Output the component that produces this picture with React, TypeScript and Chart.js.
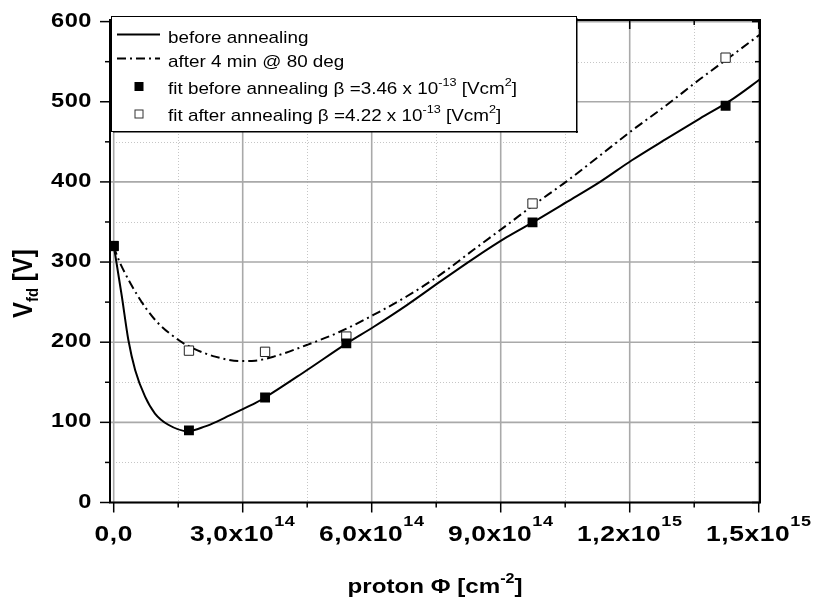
import React, { useEffect, useRef } from 'react';
import { Chart, registerables } from 'chart.js';

Chart.register(...registerables);

// ---- data (x in cm^-2, y in V) ----
const fluence = [0, 1.75e14, 3.52e14, 5.41e14, 9.74e14, 1.423e15];
const fitBefore = [320, 90, 131, 198.5, 349.5, 495];
const fitAfter = [320, 189.5, 188, 207, 373, 555];

const curveBeforeX = [0, 0.03e14, 0.19e14, 0.34e14, 0.5e14, 0.73e14, 0.96e14, 1.27e14, 1.73e14, 2.13e14, 2.4e14, 2.67e14, 2.94e14, 3.29e14, 3.52e14, 4.49e14, 5.42e14, 6.04e14, 6.81e14, 7.59e14, 8.36e14, 9.14e14, 9.76e14, 10.54e14, 11.31e14, 12.05e14, 12.86e14, 13.63e14, 14.41e14, 15.03e14];
const curveBeforeY = [320, 311, 257, 203, 165, 132, 111, 97, 89, 95, 101, 108, 115, 124, 131, 165, 198.6, 219, 246, 275.5, 304, 331, 350, 375, 400, 427, 454, 479, 504, 528];

const curveAfterX = [0, 0.07e14, 0.19e14, 0.57e14, 0.96e14, 1.5e14, 1.86e14, 2.36e14, 2.94e14, 3.29e14, 3.72e14, 4.49e14, 5.26e14, 6.04e14, 6.81e14, 7.59e14, 8.36e14, 9.14e14, 9.76e14, 10.54e14, 11.31e14, 12.05e14, 12.86e14, 13.63e14, 14.41e14, 15.03e14];
const curveAfterY = [320, 309, 294, 257, 228, 203, 192, 182, 176.5, 177, 182, 196.5, 213, 234, 257, 284, 315, 346, 371, 401, 433, 464, 496, 528, 559, 584];

const xMajorTicks = [0, 3e14, 6e14, 9e14, 1.2e15, 1.5e15];
const xTickBase = ['0,0', '3,0x10', '6,0x10', '9,0x10', '1,2x10', '1,5x10'];
const xTickExp = ['', '14', '14', '14', '15', '15'];
const xMinorTicks = [1.5e14, 4.5e14, 7.5e14, 1.05e15, 1.35e15];
const yMajorTicks = [0, 100, 200, 300, 400, 500, 600];
const yMinorTicks = [50, 150, 250, 350, 450, 550];

const legendLine1 = 'before annealing';
const legendLine2 = 'after 4 min @ 80 deg';
const legendFit1 = ['fit before annealing β =3.46 x 10', '-13', ' [Vcm', '2', ']'];
const legendFit2 = ['fit after annealing β =4.22 x 10', '-13', ' [Vcm', '2', ']'];

const X_MIN = -8.6e12;
const X_MAX = 1.503e15;
const Y_MIN = 0;
const Y_MAX = 602;

const FONT = '"Liberation Sans", Arial, Helvetica, sans-serif';
const SX = 1.15;
const DASHDOT = [9, 4, 2, 4];

type Seg = { t: string; size: number; dy: number };

function setFont(ctx: any, weight: string, size: number, ls: number) {
  ctx.font = `${weight} ${size}px ${FONT}`;
  ctx.letterSpacing = `${ls}px`;
}

function segWidth(ctx: CanvasRenderingContext2D, s: Seg, weight: string, ls: number) {
  setFont(ctx, weight, s.size, ls);
  return ctx.measureText(s.t).width;
}

function richWidth(ctx: CanvasRenderingContext2D, segs: Seg[], weight: string, sx: number, ls = 0) {
  let w = 0;
  for (const s of segs) w += segWidth(ctx, s, weight, ls) * sx;
  (ctx as any).letterSpacing = '0px';
  return w;
}

function drawRich(ctx: CanvasRenderingContext2D, segs: Seg[], x: number, y: number, weight: string, sx: number, ls = 0) {
  let cx = x;
  for (const s of segs) {
    const w = segWidth(ctx, s, weight, ls);
    ctx.save();
    setFont(ctx, weight, s.size, ls);
    ctx.textAlign = 'left';
    ctx.textBaseline = 'alphabetic';
    ctx.translate(cx, y + s.dy);
    ctx.scale(sx, 1);
    ctx.fillText(s.t, 0, 0);
    ctx.restore();
    cx += w * sx;
  }
  (ctx as any).letterSpacing = '0px';
  return cx;
}

const framePlugin = {
  id: 'originFrame',
  beforeDatasetsDraw(chart: any) {
    const { ctx, chartArea: a, scales } = chart;
    const x = scales.x;
    const y = scales.y;
    ctx.save();
    ctx.strokeStyle = '#c6c6c6';
    ctx.lineWidth = 1;
    ctx.setLineDash([1, 2]);
    for (const v of xMinorTicks) {
      const px = Math.round(x.getPixelForValue(v)) + 0.5;
      ctx.beginPath(); ctx.moveTo(px, a.top); ctx.lineTo(px, a.bottom); ctx.stroke();
    }
    for (const v of yMinorTicks) {
      const py = Math.round(y.getPixelForValue(v)) + 0.5;
      ctx.beginPath(); ctx.moveTo(a.left, py); ctx.lineTo(a.right, py); ctx.stroke();
    }
    ctx.setLineDash([]);
    ctx.strokeStyle = '#a9a9a9';
    ctx.lineWidth = 1.6;
    for (const v of xMajorTicks) {
      const px = x.getPixelForValue(v);
      ctx.beginPath(); ctx.moveTo(px, a.top); ctx.lineTo(px, a.bottom); ctx.stroke();
    }
    for (const v of yMajorTicks) {
      const py = y.getPixelForValue(v);
      ctx.beginPath(); ctx.moveTo(a.left, py); ctx.lineTo(a.right, py); ctx.stroke();
    }
    ctx.restore();
  },
  afterDatasetsDraw(chart: any) {
    const { ctx, chartArea: a, scales } = chart;
    const x = scales.x;
    const y = scales.y;
    ctx.save();
    ctx.fillStyle = '#000';
    ctx.strokeStyle = '#000';

    // frame
    ctx.lineWidth = 2;
    ctx.strokeRect(a.left, a.top, a.right - a.left, a.bottom - a.top);

    // ticks
    ctx.lineWidth = 1.5;
    const line = (x1: number, y1: number, x2: number, y2: number) => {
      ctx.beginPath(); ctx.moveTo(x1, y1); ctx.lineTo(x2, y2); ctx.stroke();
    };
    for (const v of xMajorTicks) {
      const px = x.getPixelForValue(v);
      line(px, a.bottom, px, a.bottom + 10);
      line(px, a.top, px, a.top + 9);
    }
    for (const v of xMinorTicks) {
      const px = x.getPixelForValue(v);
      line(px, a.bottom, px, a.bottom + 5);
      line(px, a.top, px, a.top + 5);
    }
    for (const v of yMajorTicks) {
      const py = y.getPixelForValue(v);
      line(a.left - 10, py, a.left, py);
      line(a.right - 8, py, a.right, py);
    }
    for (const v of yMinorTicks) {
      const py = y.getPixelForValue(v);
      line(a.left - 5, py, a.left, py);
      line(a.right - 5, py, a.right, py);
    }

    // y tick labels
    for (const v of yMajorTicks) {
      const py = y.getPixelForValue(v);
      const segs = [{ t: String(v), size: 20.5, dy: 0 }];
      const w = richWidth(ctx, segs, 'bold', SX, 0.5);
      drawRich(ctx, segs, a.left - 18 - w, py + 5, 'bold', SX, 0.5);
    }

    // x tick labels
    xMajorTicks.forEach((v, i) => {
      const px = x.getPixelForValue(v);
      const segs: Seg[] = [{ t: xTickBase[i], size: 22, dy: 0 }];
      if (xTickExp[i]) segs.push({ t: xTickExp[i], size: 15, dy: -15 });
      const w = richWidth(ctx, segs, 'bold', 1.2, 0.5);
      drawRich(ctx, segs, px - w / 2, a.bottom + 38, 'bold', 1.2, 0.5);
    });

    // x title
    const xt: Seg[] = [
      { t: 'proton Φ [cm', size: 21, dy: 0 },
      { t: '-2', size: 14, dy: -10 },
      { t: ']', size: 21, dy: 0 },
    ];
    const xtw = richWidth(ctx, xt, 'bold', SX);
    drawRich(ctx, xt, (a.left + a.right) / 2 - xtw / 2, a.bottom + 90, 'bold', SX);

    // y title (rotated)
    ctx.save();
    ctx.translate(32, 318);
    ctx.scale(SX, 1);
    ctx.rotate(-Math.PI / 2);
    drawRich(ctx, [
      { t: 'V', size: 24, dy: 0 },
      { t: 'fd', size: 15, dy: 5 },
      { t: ' [V]', size: 24, dy: 0 },
    ], 0, 0, 'bold', 1);
    ctx.restore();

    // legend
    const lx = 111, ly = 16, lw = 465, lh = 115;
    ctx.fillStyle = '#fff';
    ctx.fillRect(lx, ly, lw, lh);
    ctx.fillStyle = '#000';
    ctx.fillRect(lx + 2, ly + lh, lw, 1.5);
    ctx.fillRect(lx + lw, ly + 2, 1.5, lh);
    ctx.lineWidth = 1;
    ctx.strokeRect(lx + 0.5, ly + 0.5, lw, lh);

    const rows = [34.5, 58.5, 86.5, 114];
    const tx = 168;
    ctx.lineWidth = 2;
    ctx.setLineDash([]);
    line(117, rows[0], 160, rows[0]);
    ctx.setLineDash(DASHDOT);
    line(117, rows[1], 160, rows[1]);
    ctx.setLineDash([]);
    ctx.fillStyle = '#000';
    ctx.fillRect(134.5, rows[2] - 4.5, 9, 9);
    ctx.fillStyle = '#fff';
    ctx.fillRect(134.5, rows[3] - 4.5, 9, 9);
    ctx.strokeStyle = '#333';
    ctx.lineWidth = 1;
    ctx.strokeRect(135, rows[3] - 4, 8, 8);
    ctx.fillStyle = '#000';

    drawRich(ctx, [{ t: legendLine1, size: 16.4, dy: 0 }], tx, rows[0] + 8, 'normal', SX);
    drawRich(ctx, [{ t: legendLine2, size: 16.4, dy: 0 }], tx, rows[1] + 8, 'normal', SX);
    const fitSegs = (p: string[]): Seg[] => [
      { t: p[0], size: 16.4, dy: 0 },
      { t: p[1], size: 11, dy: -8 },
      { t: p[2], size: 16.4, dy: 0 },
      { t: p[3], size: 11, dy: -8 },
      { t: p[4], size: 16.4, dy: 0 },
    ];
    drawRich(ctx, fitSegs(legendFit1), tx, rows[2] + 7, 'normal', SX);
    drawRich(ctx, fitSegs(legendFit2), tx, rows[3] + 7, 'normal', SX);

    ctx.restore();
  },
};

export default function App() {
  const ref = useRef<HTMLCanvasElement | null>(null);
  useEffect(() => {
    if (!ref.current) return;
    const chart = new Chart(ref.current, {
      type: 'line',
      data: {
        datasets: [
          {
            label: 'fit before annealing',
            data: fluence.map((v, i) => ({ x: v, y: fitBefore[i] })),
            showLine: false,
            pointStyle: 'rect',
            pointRadius: 7,
            pointBackgroundColor: '#000',
            pointBorderColor: '#000',
            pointBorderWidth: 0,
            order: 0,
          },
          {
            label: 'fit after annealing',
            data: fluence.map((v, i) => ({ x: v, y: fitAfter[i] })),
            showLine: false,
            pointStyle: 'rect',
            pointRadius: 6.6,
            pointBackgroundColor: '#fff',
            pointBorderColor: '#222',
            pointBorderWidth: 1,
            order: 1,
          },
          {
            label: 'before annealing',
            data: curveBeforeX.map((v, i) => ({ x: v, y: curveBeforeY[i] })),
            borderColor: '#000',
            borderWidth: 2,
            pointRadius: 0,
            cubicInterpolationMode: 'monotone',
            fill: false,
            order: 2,
          },
          {
            label: 'after 4 min @ 80 deg',
            data: curveAfterX.map((v, i) => ({ x: v, y: curveAfterY[i] })),
            borderColor: '#000',
            borderWidth: 2,
            borderDash: DASHDOT,
            pointRadius: 0,
            cubicInterpolationMode: 'monotone',
            fill: false,
            order: 3,
          },
        ],
      },
      options: {
        responsive: false,
        animation: false,
        devicePixelRatio: 1,
        events: [],
        layout: { padding: { left: 110, top: 20, right: 57, bottom: 103.5 } },
        scales: {
          x: { type: 'linear', min: X_MIN, max: X_MAX, display: false },
          y: { type: 'linear', min: Y_MIN, max: Y_MAX, display: false },
        },
        plugins: {
          legend: { display: false },
          tooltip: { enabled: false },
          title: { display: false },
        },
      },
      plugins: [framePlugin],
    } as any);
    return () => chart.destroy();
  }, []);
  return (
    <div style={{ position: 'absolute', left: 0, top: 0, width: 817, height: 606, background: '#fff' }}>
      <canvas ref={ref} width={817} height={606} style={{ display: 'block', width: 817, height: 606 }} />
    </div>
  );
}
